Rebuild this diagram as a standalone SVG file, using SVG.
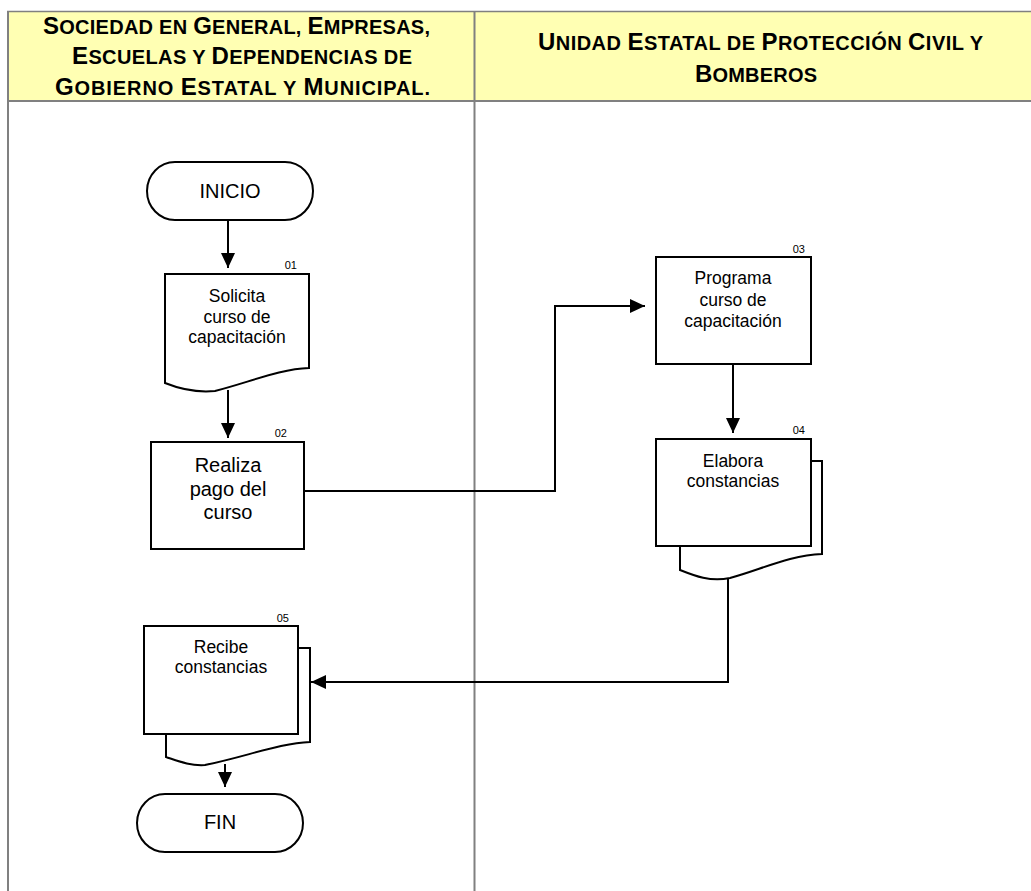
<svg xmlns="http://www.w3.org/2000/svg" width="1031" height="891" viewBox="0 0 1031 891">
<style>
.frame{stroke:#808080;fill:none}
.hdr{font-family:"Liberation Sans",Arial,sans-serif;font-weight:bold;fill:#000}
.hb{font-size:24px}
.hs{font-size:20px}
.shape{fill:#fff;stroke:#000;stroke-width:2}
.back{fill:#fff;stroke:#000;stroke-width:2}
.t{font-family:"Liberation Sans",Arial,sans-serif;font-size:17.5px;fill:#000;text-anchor:middle}
.tl{font-family:"Liberation Sans",Arial,sans-serif;font-size:20px;fill:#000;text-anchor:middle}
.num{font-family:"Liberation Sans",Arial,sans-serif;font-size:11px;fill:#000;text-anchor:end}
.conn{fill:none;stroke:#000;stroke-width:2}
</style>
<defs>
<marker id="arr" markerUnits="userSpaceOnUse" markerWidth="16" markerHeight="14" refX="15" refY="7" orient="auto">
<path d="M0,0 L15,7 L0,14 Z" fill="#000"/>
</marker>
</defs>
<rect width="1031" height="891" fill="#fff"/>
<g id="header">
<rect x="7" y="11" width="1024" height="89" fill="#FFFFB3"/>
<line class="frame" x1="7" y1="11.5" x2="1031" y2="11.5" stroke-width="1.5"/>
<line class="frame" x1="7" y1="101" x2="1031" y2="101" stroke-width="2"/>
<line class="frame" x1="8" y1="11" x2="8" y2="891" stroke-width="2"/>
<line class="frame" x1="474.5" y1="11" x2="474.5" y2="891" stroke-width="2"/>
<text class="hdr" x="43" y="34" textLength="387" lengthAdjust="spacing"><tspan class="hb">S</tspan><tspan class="hs">OCIEDAD EN </tspan><tspan class="hb">G</tspan><tspan class="hs">ENERAL, </tspan><tspan class="hb">E</tspan><tspan class="hs">MPRESAS,</tspan></text>
<text class="hdr" x="72" y="64" textLength="340" lengthAdjust="spacing"><tspan class="hb">E</tspan><tspan class="hs">SCUELAS Y </tspan><tspan class="hb">D</tspan><tspan class="hs">EPENDENCIAS DE</tspan></text>
<text class="hdr" x="55" y="95" textLength="375" lengthAdjust="spacing"><tspan class="hb">G</tspan><tspan class="hs">OBIERNO </tspan><tspan class="hb">E</tspan><tspan class="hs">STATAL Y </tspan><tspan class="hb">M</tspan><tspan class="hs">UNICIPAL.</tspan></text>
<text class="hdr" x="538" y="50" textLength="445" lengthAdjust="spacing"><tspan class="hb">U</tspan><tspan class="hs">NIDAD </tspan><tspan class="hb">E</tspan><tspan class="hs">STATAL DE </tspan><tspan class="hb">P</tspan><tspan class="hs">ROTECCIÓN </tspan><tspan class="hb">C</tspan><tspan class="hs">IVIL Y</tspan></text>
<text class="hdr" x="695" y="82" textLength="122" lengthAdjust="spacing"><tspan class="hb">B</tspan><tspan class="hs">OMBEROS</tspan></text>
</g>
<g id="connectors">
<path class="conn" d="M228,220 V268" marker-end="url(#arr)"/>
<path class="conn" d="M228,390 V438" marker-end="url(#arr)"/>
<path class="conn" d="M304,491 H555 V306 H645" marker-end="url(#arr)"/>
<path class="conn" d="M733,364 V433" marker-end="url(#arr)"/>
<path class="conn" d="M728,578 V682 H311" marker-end="url(#arr)"/>
<path class="conn" d="M225,764 V787" marker-end="url(#arr)"/>
</g>
<g id="inicio">
<rect class="shape" x="147" y="162" width="166" height="58" rx="28" ry="29"/>
<text class="tl" x="230" y="198">INICIO</text>
</g>
<g id="n01">
<path class="shape" d="M165,274 H309 V368 C 280,369 250,382 215,391 C 195,393 180,389 165,383 Z"/>
<text class="num" x="297" y="269">01</text>
<text class="t" x="237" y="302">Solicita</text>
<text class="t" x="237" y="323">curso de</text>
<text class="t" x="237" y="343">capacitación</text>
</g>
<g id="n02">
<rect class="shape" x="151" y="442" width="153" height="107"/>
<text class="num" x="287" y="437">02</text>
<text class="tl" x="228" y="472">Realiza</text>
<text class="tl" x="228" y="496">pago del</text>
<text class="tl" x="228" y="519">curso</text>
</g>
<g id="n03">
<rect class="shape" x="656" y="257" width="155" height="107"/>
<text class="num" x="805" y="253">03</text>
<text class="t" x="733" y="284">Programa</text>
<text class="t" x="733" y="306">curso de</text>
<text class="t" x="733" y="327">capacitación</text>
</g>
<g id="n04">
<path class="back" d="M811,461 H822 V554 C 790,555 760,570 730,578 C 710,582 695,576 680,570 V546 H811 Z"/>
<rect class="shape" x="656" y="439" width="155" height="107"/>
<text class="num" x="805" y="434">04</text>
<text class="t" x="733" y="467">Elabora</text>
<text class="t" x="733" y="487">constancias</text>
</g>
<g id="n05">
<path class="back" d="M298,648 H310 V742 C 280,743 245,757 205,765 C 190,766 178,761 166,757 V734 H298 Z"/>
<rect class="shape" x="144" y="626" width="154" height="108"/>
<text class="num" x="289" y="622">05</text>
<text class="t" x="221" y="653">Recibe</text>
<text class="t" x="221" y="673">constancias</text>
</g>
<g id="fin">
<rect class="shape" x="137" y="794" width="166" height="58" rx="28" ry="29"/>
<text class="tl" x="220" y="829">FIN</text>
</g>
</svg>
